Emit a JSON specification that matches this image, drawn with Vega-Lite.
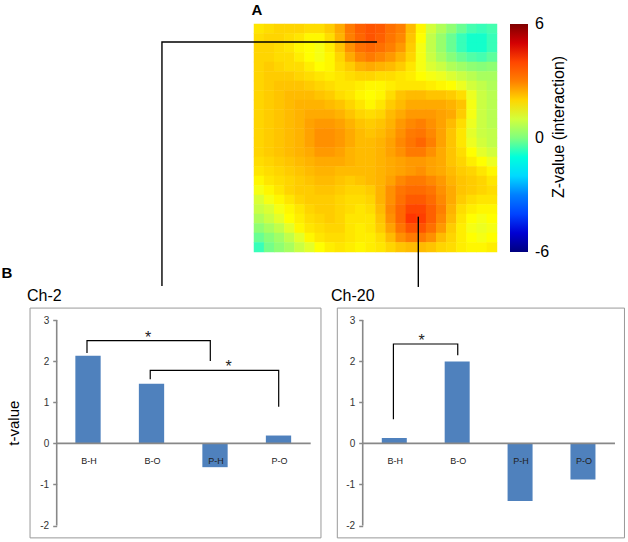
{"$schema":"https://vega.github.io/schema/vega-lite/v6.json","padding":0,"spacing":0,"bounds":"flush","background":"white",
"config":{"view":{"stroke":null},"font":"Liberation Sans","concat":{"spacing":0}},
"vconcat":[
{"width":628,"height":290,
"layer":[
{"data":{"values":[
{"c":0,"r":0,"z":1.8},{"c":1,"r":0,"z":1.9},{"c":2,"r":0,"z":2.0},{"c":3,"r":0,"z":2.0},{"c":4,"r":0,"z":2.0},{"c":5,"r":0,"z":1.9},{"c":6,"r":0,"z":1.9},{"c":7,"r":0,"z":2.1},{"c":8,"r":0,"z":2.5},{"c":9,"r":0,"z":3.1},{"c":10,"r":0,"z":3.6},{"c":11,"r":0,"z":3.8},{"c":12,"r":0,"z":3.7},{"c":13,"r":0,"z":3.3},{"c":14,"r":0,"z":3.0},{"c":15,"r":0,"z":2.3},{"c":16,"r":0,"z":1.6},{"c":17,"r":0,"z":1.0},{"c":18,"r":0,"z":0.6},{"c":19,"r":0,"z":0.2},{"c":20,"r":0,"z":-0.2},{"c":21,"r":0,"z":-0.5},{"c":22,"r":0,"z":-0.6},{"c":23,"r":0,"z":-0.5},
{"c":0,"r":1,"z":1.9},{"c":1,"r":1,"z":2.0},{"c":2,"r":1,"z":2.0},{"c":3,"r":1,"z":1.9},{"c":4,"r":1,"z":1.8},{"c":5,"r":1,"z":1.6},{"c":6,"r":1,"z":1.6},{"c":7,"r":1,"z":1.9},{"c":8,"r":1,"z":2.4},{"c":9,"r":1,"z":3.0},{"c":10,"r":1,"z":3.5},{"c":11,"r":1,"z":3.8},{"c":12,"r":1,"z":3.6},{"c":13,"r":1,"z":3.2},{"c":14,"r":1,"z":2.9},{"c":15,"r":1,"z":2.2},{"c":16,"r":1,"z":1.5},{"c":17,"r":1,"z":0.8},{"c":18,"r":1,"z":0.3},{"c":19,"r":1,"z":-0.2},{"c":20,"r":1,"z":-0.6},{"c":21,"r":1,"z":-0.8},{"c":22,"r":1,"z":-0.8},{"c":23,"r":1,"z":-0.6},
{"c":0,"r":2,"z":2.0},{"c":1,"r":2,"z":2.0},{"c":2,"r":2,"z":1.9},{"c":3,"r":2,"z":1.8},{"c":4,"r":2,"z":1.6},{"c":5,"r":2,"z":1.5},{"c":6,"r":2,"z":1.4},{"c":7,"r":2,"z":1.7},{"c":8,"r":2,"z":2.2},{"c":9,"r":2,"z":2.8},{"c":10,"r":2,"z":3.3},{"c":11,"r":2,"z":3.5},{"c":12,"r":2,"z":3.3},{"c":13,"r":2,"z":3.0},{"c":14,"r":2,"z":2.7},{"c":15,"r":2,"z":2.1},{"c":16,"r":2,"z":1.4},{"c":17,"r":2,"z":0.8},{"c":18,"r":2,"z":0.3},{"c":19,"r":2,"z":-0.2},{"c":20,"r":2,"z":-0.6},{"c":21,"r":2,"z":-0.8},{"c":22,"r":2,"z":-0.8},{"c":23,"r":2,"z":-0.6},
{"c":0,"r":3,"z":2.0},{"c":1,"r":3,"z":2.0},{"c":2,"r":3,"z":1.9},{"c":3,"r":3,"z":1.9},{"c":4,"r":3,"z":1.7},{"c":5,"r":3,"z":1.5},{"c":6,"r":3,"z":1.4},{"c":7,"r":3,"z":1.6},{"c":8,"r":3,"z":2.0},{"c":9,"r":3,"z":2.5},{"c":10,"r":3,"z":2.9},{"c":11,"r":3,"z":3.1},{"c":12,"r":3,"z":2.9},{"c":13,"r":3,"z":2.7},{"c":14,"r":3,"z":2.4},{"c":15,"r":3,"z":2.0},{"c":16,"r":3,"z":1.4},{"c":17,"r":3,"z":0.9},{"c":18,"r":3,"z":0.5},{"c":19,"r":3,"z":0.1},{"c":20,"r":3,"z":-0.2},{"c":21,"r":3,"z":-0.4},{"c":22,"r":3,"z":-0.5},{"c":23,"r":3,"z":-0.3},
{"c":0,"r":4,"z":2.0},{"c":1,"r":4,"z":2.1},{"c":2,"r":4,"z":2.0},{"c":3,"r":4,"z":1.9},{"c":4,"r":4,"z":1.9},{"c":5,"r":4,"z":1.7},{"c":6,"r":4,"z":1.5},{"c":7,"r":4,"z":1.6},{"c":8,"r":4,"z":1.9},{"c":9,"r":4,"z":2.1},{"c":10,"r":4,"z":2.4},{"c":11,"r":4,"z":2.5},{"c":12,"r":4,"z":2.4},{"c":13,"r":4,"z":2.3},{"c":14,"r":4,"z":2.1},{"c":15,"r":4,"z":1.8},{"c":16,"r":4,"z":1.4},{"c":17,"r":4,"z":1.1},{"c":18,"r":4,"z":0.9},{"c":19,"r":4,"z":0.6},{"c":20,"r":4,"z":0.4},{"c":21,"r":4,"z":0.2},{"c":22,"r":4,"z":0.1},{"c":23,"r":4,"z":0.2},
{"c":0,"r":5,"z":2.0},{"c":1,"r":5,"z":2.1},{"c":2,"r":5,"z":2.1},{"c":3,"r":5,"z":2.1},{"c":4,"r":5,"z":2.0},{"c":5,"r":5,"z":1.9},{"c":6,"r":5,"z":1.8},{"c":7,"r":5,"z":1.7},{"c":8,"r":5,"z":1.8},{"c":9,"r":5,"z":1.9},{"c":10,"r":5,"z":2.0},{"c":11,"r":5,"z":2.0},{"c":12,"r":5,"z":1.9},{"c":13,"r":5,"z":1.9},{"c":14,"r":5,"z":1.8},{"c":15,"r":5,"z":1.7},{"c":16,"r":5,"z":1.5},{"c":17,"r":5,"z":1.4},{"c":18,"r":5,"z":1.3},{"c":19,"r":5,"z":1.1},{"c":20,"r":5,"z":0.9},{"c":21,"r":5,"z":0.7},{"c":22,"r":5,"z":0.5},{"c":23,"r":5,"z":0.5},
{"c":0,"r":6,"z":2.0},{"c":1,"r":6,"z":2.1},{"c":2,"r":6,"z":2.2},{"c":3,"r":6,"z":2.2},{"c":4,"r":6,"z":2.2},{"c":5,"r":6,"z":2.1},{"c":6,"r":6,"z":2.0},{"c":7,"r":6,"z":1.9},{"c":8,"r":6,"z":1.8},{"c":9,"r":6,"z":1.8},{"c":10,"r":6,"z":1.7},{"c":11,"r":6,"z":1.6},{"c":12,"r":6,"z":1.6},{"c":13,"r":6,"z":1.7},{"c":14,"r":6,"z":1.8},{"c":15,"r":6,"z":1.8},{"c":16,"r":6,"z":1.8},{"c":17,"r":6,"z":1.7},{"c":18,"r":6,"z":1.6},{"c":19,"r":6,"z":1.5},{"c":20,"r":6,"z":1.3},{"c":21,"r":6,"z":1.0},{"c":22,"r":6,"z":0.8},{"c":23,"r":6,"z":0.6},
{"c":0,"r":7,"z":2.0},{"c":1,"r":7,"z":2.1},{"c":2,"r":7,"z":2.2},{"c":3,"r":7,"z":2.3},{"c":4,"r":7,"z":2.3},{"c":5,"r":7,"z":2.3},{"c":6,"r":7,"z":2.2},{"c":7,"r":7,"z":2.1},{"c":8,"r":7,"z":1.9},{"c":9,"r":7,"z":1.8},{"c":10,"r":7,"z":1.6},{"c":11,"r":7,"z":1.5},{"c":12,"r":7,"z":1.6},{"c":13,"r":7,"z":1.9},{"c":14,"r":7,"z":2.2},{"c":15,"r":7,"z":2.3},{"c":16,"r":7,"z":2.3},{"c":17,"r":7,"z":2.2},{"c":18,"r":7,"z":2.2},{"c":19,"r":7,"z":2.1},{"c":20,"r":7,"z":1.9},{"c":21,"r":7,"z":1.3},{"c":22,"r":7,"z":0.9},{"c":23,"r":7,"z":0.7},
{"c":0,"r":8,"z":2.0},{"c":1,"r":8,"z":2.1},{"c":2,"r":8,"z":2.2},{"c":3,"r":8,"z":2.3},{"c":4,"r":8,"z":2.4},{"c":5,"r":8,"z":2.4},{"c":6,"r":8,"z":2.4},{"c":7,"r":8,"z":2.3},{"c":8,"r":8,"z":2.2},{"c":9,"r":8,"z":2.0},{"c":10,"r":8,"z":1.8},{"c":11,"r":8,"z":1.6},{"c":12,"r":8,"z":1.8},{"c":13,"r":8,"z":2.1},{"c":14,"r":8,"z":2.3},{"c":15,"r":8,"z":2.5},{"c":16,"r":8,"z":2.5},{"c":17,"r":8,"z":2.5},{"c":18,"r":8,"z":2.5},{"c":19,"r":8,"z":2.4},{"c":20,"r":8,"z":2.2},{"c":21,"r":8,"z":1.4},{"c":22,"r":8,"z":0.9},{"c":23,"r":8,"z":0.7},
{"c":0,"r":9,"z":2.0},{"c":1,"r":9,"z":2.1},{"c":2,"r":9,"z":2.2},{"c":3,"r":9,"z":2.3},{"c":4,"r":9,"z":2.4},{"c":5,"r":9,"z":2.5},{"c":6,"r":9,"z":2.5},{"c":7,"r":9,"z":2.5},{"c":8,"r":9,"z":2.4},{"c":9,"r":9,"z":2.2},{"c":10,"r":9,"z":2.0},{"c":11,"r":9,"z":1.9},{"c":12,"r":9,"z":2.0},{"c":13,"r":9,"z":2.3},{"c":14,"r":9,"z":2.5},{"c":15,"r":9,"z":2.7},{"c":16,"r":9,"z":2.7},{"c":17,"r":9,"z":2.7},{"c":18,"r":9,"z":2.6},{"c":19,"r":9,"z":2.5},{"c":20,"r":9,"z":2.1},{"c":21,"r":9,"z":1.4},{"c":22,"r":9,"z":0.9},{"c":23,"r":9,"z":0.7},
{"c":0,"r":10,"z":2.0},{"c":1,"r":10,"z":2.1},{"c":2,"r":10,"z":2.2},{"c":3,"r":10,"z":2.3},{"c":4,"r":10,"z":2.4},{"c":5,"r":10,"z":2.6},{"c":6,"r":10,"z":2.7},{"c":7,"r":10,"z":2.7},{"c":8,"r":10,"z":2.6},{"c":9,"r":10,"z":2.4},{"c":10,"r":10,"z":2.2},{"c":11,"r":10,"z":2.1},{"c":12,"r":10,"z":2.2},{"c":13,"r":10,"z":2.4},{"c":14,"r":10,"z":2.7},{"c":15,"r":10,"z":2.9},{"c":16,"r":10,"z":3.0},{"c":17,"r":10,"z":2.8},{"c":18,"r":10,"z":2.6},{"c":19,"r":10,"z":2.3},{"c":20,"r":10,"z":1.9},{"c":21,"r":10,"z":1.3},{"c":22,"r":10,"z":0.9},{"c":23,"r":10,"z":0.7},
{"c":0,"r":11,"z":2.0},{"c":1,"r":11,"z":2.1},{"c":2,"r":11,"z":2.2},{"c":3,"r":11,"z":2.3},{"c":4,"r":11,"z":2.4},{"c":5,"r":11,"z":2.6},{"c":6,"r":11,"z":2.8},{"c":7,"r":11,"z":2.8},{"c":8,"r":11,"z":2.7},{"c":9,"r":11,"z":2.5},{"c":10,"r":11,"z":2.3},{"c":11,"r":11,"z":2.2},{"c":12,"r":11,"z":2.3},{"c":13,"r":11,"z":2.5},{"c":14,"r":11,"z":2.8},{"c":15,"r":11,"z":3.1},{"c":16,"r":11,"z":3.2},{"c":17,"r":11,"z":2.9},{"c":18,"r":11,"z":2.6},{"c":19,"r":11,"z":2.2},{"c":20,"r":11,"z":1.8},{"c":21,"r":11,"z":1.2},{"c":22,"r":11,"z":0.9},{"c":23,"r":11,"z":0.8},
{"c":0,"r":12,"z":2.0},{"c":1,"r":12,"z":2.1},{"c":2,"r":12,"z":2.2},{"c":3,"r":12,"z":2.3},{"c":4,"r":12,"z":2.4},{"c":5,"r":12,"z":2.6},{"c":6,"r":12,"z":2.8},{"c":7,"r":12,"z":2.8},{"c":8,"r":12,"z":2.7},{"c":9,"r":12,"z":2.5},{"c":10,"r":12,"z":2.3},{"c":11,"r":12,"z":2.3},{"c":12,"r":12,"z":2.4},{"c":13,"r":12,"z":2.6},{"c":14,"r":12,"z":2.9},{"c":15,"r":12,"z":3.2},{"c":16,"r":12,"z":3.5},{"c":17,"r":12,"z":3.0},{"c":18,"r":12,"z":2.6},{"c":19,"r":12,"z":2.2},{"c":20,"r":12,"z":1.8},{"c":21,"r":12,"z":1.3},{"c":22,"r":12,"z":1.0},{"c":23,"r":12,"z":0.8},
{"c":0,"r":13,"z":2.0},{"c":1,"r":13,"z":2.1},{"c":2,"r":13,"z":2.2},{"c":3,"r":13,"z":2.3},{"c":4,"r":13,"z":2.4},{"c":5,"r":13,"z":2.5},{"c":6,"r":13,"z":2.7},{"c":7,"r":13,"z":2.7},{"c":8,"r":13,"z":2.6},{"c":9,"r":13,"z":2.4},{"c":10,"r":13,"z":2.3},{"c":11,"r":13,"z":2.3},{"c":12,"r":13,"z":2.4},{"c":13,"r":13,"z":2.6},{"c":14,"r":13,"z":2.8},{"c":15,"r":13,"z":3.1},{"c":16,"r":13,"z":3.1},{"c":17,"r":13,"z":2.8},{"c":18,"r":13,"z":2.5},{"c":19,"r":13,"z":2.2},{"c":20,"r":13,"z":1.9},{"c":21,"r":13,"z":1.5},{"c":22,"r":13,"z":1.2},{"c":23,"r":13,"z":1.0},
{"c":0,"r":14,"z":1.9},{"c":1,"r":14,"z":2.0},{"c":2,"r":14,"z":2.1},{"c":3,"r":14,"z":2.2},{"c":4,"r":14,"z":2.3},{"c":5,"r":14,"z":2.4},{"c":6,"r":14,"z":2.5},{"c":7,"r":14,"z":2.5},{"c":8,"r":14,"z":2.5},{"c":9,"r":14,"z":2.4},{"c":10,"r":14,"z":2.3},{"c":11,"r":14,"z":2.3},{"c":12,"r":14,"z":2.4},{"c":13,"r":14,"z":2.5},{"c":14,"r":14,"z":2.6},{"c":15,"r":14,"z":2.7},{"c":16,"r":14,"z":2.7},{"c":17,"r":14,"z":2.6},{"c":18,"r":14,"z":2.5},{"c":19,"r":14,"z":2.2},{"c":20,"r":14,"z":2.0},{"c":21,"r":14,"z":1.7},{"c":22,"r":14,"z":1.5},{"c":23,"r":14,"z":1.3},
{"c":0,"r":15,"z":1.8},{"c":1,"r":15,"z":1.9},{"c":2,"r":15,"z":2.0},{"c":3,"r":15,"z":2.1},{"c":4,"r":15,"z":2.2},{"c":5,"r":15,"z":2.3},{"c":6,"r":15,"z":2.4},{"c":7,"r":15,"z":2.4},{"c":8,"r":15,"z":2.3},{"c":9,"r":15,"z":2.3},{"c":10,"r":15,"z":2.3},{"c":11,"r":15,"z":2.3},{"c":12,"r":15,"z":2.4},{"c":13,"r":15,"z":2.5},{"c":14,"r":15,"z":2.6},{"c":15,"r":15,"z":2.7},{"c":16,"r":15,"z":2.8},{"c":17,"r":15,"z":2.6},{"c":18,"r":15,"z":2.5},{"c":19,"r":15,"z":2.3},{"c":20,"r":15,"z":2.1},{"c":21,"r":15,"z":2.0},{"c":22,"r":15,"z":1.8},{"c":23,"r":15,"z":1.6},
{"c":0,"r":16,"z":1.6},{"c":1,"r":16,"z":1.8},{"c":2,"r":16,"z":1.9},{"c":3,"r":16,"z":2.0},{"c":4,"r":16,"z":2.1},{"c":5,"r":16,"z":2.2},{"c":6,"r":16,"z":2.3},{"c":7,"r":16,"z":2.3},{"c":8,"r":16,"z":2.2},{"c":9,"r":16,"z":2.1},{"c":10,"r":16,"z":2.2},{"c":11,"r":16,"z":2.3},{"c":12,"r":16,"z":2.4},{"c":13,"r":16,"z":2.6},{"c":14,"r":16,"z":2.9},{"c":15,"r":16,"z":3.1},{"c":16,"r":16,"z":3.1},{"c":17,"r":16,"z":2.9},{"c":18,"r":16,"z":2.7},{"c":19,"r":16,"z":2.4},{"c":20,"r":16,"z":2.2},{"c":21,"r":16,"z":2.1},{"c":22,"r":16,"z":2.0},{"c":23,"r":16,"z":1.8},
{"c":0,"r":17,"z":1.4},{"c":1,"r":17,"z":1.6},{"c":2,"r":17,"z":1.8},{"c":3,"r":17,"z":2.0},{"c":4,"r":17,"z":2.1},{"c":5,"r":17,"z":2.1},{"c":6,"r":17,"z":2.2},{"c":7,"r":17,"z":2.2},{"c":8,"r":17,"z":2.1},{"c":9,"r":17,"z":2.0},{"c":10,"r":17,"z":2.0},{"c":11,"r":17,"z":2.1},{"c":12,"r":17,"z":2.4},{"c":13,"r":17,"z":2.8},{"c":14,"r":17,"z":3.2},{"c":15,"r":17,"z":3.4},{"c":16,"r":17,"z":3.4},{"c":17,"r":17,"z":3.2},{"c":18,"r":17,"z":2.8},{"c":19,"r":17,"z":2.5},{"c":20,"r":17,"z":2.2},{"c":21,"r":17,"z":2.1},{"c":22,"r":17,"z":2.0},{"c":23,"r":17,"z":1.9},
{"c":0,"r":18,"z":1.1},{"c":1,"r":18,"z":1.4},{"c":2,"r":18,"z":1.6},{"c":3,"r":18,"z":1.8},{"c":4,"r":18,"z":2.0},{"c":5,"r":18,"z":2.1},{"c":6,"r":18,"z":2.1},{"c":7,"r":18,"z":2.1},{"c":8,"r":18,"z":2.0},{"c":9,"r":18,"z":1.9},{"c":10,"r":18,"z":1.9},{"c":11,"r":18,"z":2.0},{"c":12,"r":18,"z":2.4},{"c":13,"r":18,"z":2.8},{"c":14,"r":18,"z":3.3},{"c":15,"r":18,"z":3.7},{"c":16,"r":18,"z":3.7},{"c":17,"r":18,"z":3.4},{"c":18,"r":18,"z":2.9},{"c":19,"r":18,"z":2.5},{"c":20,"r":18,"z":2.1},{"c":21,"r":18,"z":1.9},{"c":22,"r":18,"z":1.8},{"c":23,"r":18,"z":1.8},
{"c":0,"r":19,"z":0.9},{"c":1,"r":19,"z":1.1},{"c":2,"r":19,"z":1.4},{"c":3,"r":19,"z":1.6},{"c":4,"r":19,"z":1.8},{"c":5,"r":19,"z":2.0},{"c":6,"r":19,"z":2.1},{"c":7,"r":19,"z":2.1},{"c":8,"r":19,"z":2.0},{"c":9,"r":19,"z":1.9},{"c":10,"r":19,"z":1.8},{"c":11,"r":19,"z":1.9},{"c":12,"r":19,"z":2.3},{"c":13,"r":19,"z":2.9},{"c":14,"r":19,"z":3.5},{"c":15,"r":19,"z":4.0},{"c":16,"r":19,"z":4.0},{"c":17,"r":19,"z":3.6},{"c":18,"r":19,"z":3.0},{"c":19,"r":19,"z":2.4},{"c":20,"r":19,"z":1.9},{"c":21,"r":19,"z":1.7},{"c":22,"r":19,"z":1.6},{"c":23,"r":19,"z":1.6},
{"c":0,"r":20,"z":0.6},{"c":1,"r":20,"z":0.9},{"c":2,"r":20,"z":1.2},{"c":3,"r":20,"z":1.5},{"c":4,"r":20,"z":1.7},{"c":5,"r":20,"z":1.9},{"c":6,"r":20,"z":2.0},{"c":7,"r":20,"z":2.1},{"c":8,"r":20,"z":2.0},{"c":9,"r":20,"z":1.8},{"c":10,"r":20,"z":1.8},{"c":11,"r":20,"z":1.8},{"c":12,"r":20,"z":2.2},{"c":13,"r":20,"z":2.8},{"c":14,"r":20,"z":3.5},{"c":15,"r":20,"z":4.2},{"c":16,"r":20,"z":4.1},{"c":17,"r":20,"z":3.6},{"c":18,"r":20,"z":2.9},{"c":19,"r":20,"z":2.3},{"c":20,"r":20,"z":1.8},{"c":21,"r":20,"z":1.5},{"c":22,"r":20,"z":1.4},{"c":23,"r":20,"z":1.5},
{"c":0,"r":21,"z":0.2},{"c":1,"r":21,"z":0.5},{"c":2,"r":21,"z":0.8},{"c":3,"r":21,"z":1.2},{"c":4,"r":21,"z":1.6},{"c":5,"r":21,"z":1.8},{"c":6,"r":21,"z":1.9},{"c":7,"r":21,"z":2.0},{"c":8,"r":21,"z":2.0},{"c":9,"r":21,"z":1.8},{"c":10,"r":21,"z":1.7},{"c":11,"r":21,"z":1.8},{"c":12,"r":21,"z":2.1},{"c":13,"r":21,"z":2.6},{"c":14,"r":21,"z":3.2},{"c":15,"r":21,"z":3.8},{"c":16,"r":21,"z":3.8},{"c":17,"r":21,"z":3.3},{"c":18,"r":21,"z":2.7},{"c":19,"r":21,"z":2.1},{"c":20,"r":21,"z":1.7},{"c":21,"r":21,"z":1.4},{"c":22,"r":21,"z":1.3},{"c":23,"r":21,"z":1.4},
{"c":0,"r":22,"z":-0.2},{"c":1,"r":22,"z":0.1},{"c":2,"r":22,"z":0.4},{"c":3,"r":22,"z":0.8},{"c":4,"r":22,"z":1.2},{"c":5,"r":22,"z":1.6},{"c":6,"r":22,"z":1.8},{"c":7,"r":22,"z":1.9},{"c":8,"r":22,"z":1.9},{"c":9,"r":22,"z":1.8},{"c":10,"r":22,"z":1.7},{"c":11,"r":22,"z":1.7},{"c":12,"r":22,"z":1.9},{"c":13,"r":22,"z":2.3},{"c":14,"r":22,"z":2.8},{"c":15,"r":22,"z":3.1},{"c":16,"r":22,"z":3.1},{"c":17,"r":22,"z":2.8},{"c":18,"r":22,"z":2.3},{"c":19,"r":22,"z":2.0},{"c":20,"r":22,"z":1.7},{"c":21,"r":22,"z":1.5},{"c":22,"r":22,"z":1.4},{"c":23,"r":22,"z":1.5},
{"c":0,"r":23,"z":-0.6},{"c":1,"r":23,"z":-0.1},{"c":2,"r":23,"z":0.2},{"c":3,"r":23,"z":0.5},{"c":4,"r":23,"z":0.9},{"c":5,"r":23,"z":1.2},{"c":6,"r":23,"z":1.5},{"c":7,"r":23,"z":1.7},{"c":8,"r":23,"z":1.8},{"c":9,"r":23,"z":1.7},{"c":10,"r":23,"z":1.6},{"c":11,"r":23,"z":1.7},{"c":12,"r":23,"z":1.8},{"c":13,"r":23,"z":2.0},{"c":14,"r":23,"z":2.2},{"c":15,"r":23,"z":2.3},{"c":16,"r":23,"z":2.3},{"c":17,"r":23,"z":2.2},{"c":18,"r":23,"z":2.0},{"c":19,"r":23,"z":1.9},{"c":20,"r":23,"z":1.7},{"c":21,"r":23,"z":1.6},{"c":22,"r":23,"z":1.6},{"c":23,"r":23,"z":1.7}
]},
"mark":{"type":"rect","width":10.6,"height":10},
"encoding":{
"x":{"field":"c","type":"quantitative","scale":{"domain":[-25.586,36.44],"nice":false,"zero":false},"axis":null},
"y":{"field":"r","type":"quantitative","scale":{"domain":[-3.026,27.5],"nice":false,"zero":false,"reverse":true},"axis":null},
"color":{"field":"z","type":"quantitative","scale":{"domain":[-6,-4.5,-3,-1.5,0,1.5,3,4.5,6],"range":["#00007f","#0000ff","#007fff","#00ffff","#7fff7f","#ffff00","#ff7f00","#ff0000","#7f0000"]},
"legend":{"orient":"none","legendX":510,"legendY":24,"title":null,"direction":"vertical","gradientLength":228,"gradientThickness":18,"values":[-6,0,6],"labelFontSize":16,"labelFont":"Liberation Sans","labelColor":"#000","labelOffset":7,"labelBaseline":"middle","labelExpr":"'' + datum.value","encode":{"labels":{"update":{"baseline":{"value":"middle"}}}},"tickCount":3,"gradientStrokeWidth":0}}
}},
{"data":{"values":[{"c":11.65,"r":1.395,"o":0,"g":"Ch-2"},{"c":-9.59,"r":1.395,"o":1,"g":"Ch-2"},{"c":-9.59,"r":27.08,"o":2,"g":"Ch-2"},{"c":15.73,"r":19.78,"o":0,"g":"Ch-20"},{"c":15.73,"r":27.18,"o":1,"g":"Ch-20"}]},
"mark":{"type":"line","color":"#000","strokeWidth":1.4,"interpolate":"linear"},
"encoding":{"x":{"field":"c","type":"quantitative"},"y":{"field":"r","type":"quantitative"},"detail":{"field":"g"},"order":{"field":"o","type":"quantitative"}}},
{"data":{"values":[{"c":-0.2,"r":-1.97,"t":"A"},{"c":-24.9,"r":25.7,"t":"B"}]},
"mark":{"type":"text","fontSize":15,"fontWeight":"bold","font":"Liberation Sans","color":"#000"},
"encoding":{"x":{"field":"c","type":"quantitative"},"y":{"field":"r","type":"quantitative"},"text":{"field":"t"}}},
{"data":{"values":[{"c":29.6,"r":10.34,"t":"Z-value (interaction)"}]},
"mark":{"type":"text","fontSize":16,"angle":270,"font":"Liberation Sans","color":"#000"},
"encoding":{"x":{"field":"c","type":"quantitative"},"y":{"field":"r","type":"quantitative"},"text":{"field":"t"}}}
]},
{"hconcat":[
{"width":328,"height":252,
"encoding":{"x":{"field":"x","type":"quantitative","scale":{"domain":[-0.386,4.7795],"nice":false,"zero":false,"padding":0},"axis":null},
"y":{"field":"y","type":"quantitative","scale":{"domain":[-2.40,3.73],"nice":false,"zero":false},"title":null,"axis":{"values":[-2,-1,0,1,2,3],"offset":-56.7,"domain":false,"grid":false,"tickColor":"#888","tickSize":4,"tickWidth":1.5,"labelFontSize":10,"labelColor":"#333","labelPadding":4,"labelFont":"Liberation Sans","labelExpr":"'' + datum.value"}}},
"layer":[
{"data":{"values":[{"x":0.087,"x2":4.669,"y":3.29,"y2":-2.30}]},"mark":{"type":"rect","fill":null,"stroke":"#999","strokeWidth":1},"encoding":{"x2":{"field":"x2"},"y2":{"field":"y2"}}},
{"data":{"name":"ch2","values":[{"label":"B-H","x":1,"y":2.13},{"label":"B-O","x":2,"y":1.45},{"label":"P-H","x":3,"y":-0.58},{"label":"P-O","x":4,"y":0.19}]},"mark":{"type":"bar","width":25.3,"orient":"vertical","color":"#4f81bd"},"encoding":{"y2":{"datum":0}}},
{"data":{"values":[{"x":0.507,"y":-2,"y2":3}]},"mark":{"type":"rule","color":"#888","strokeWidth":1.6},"encoding":{"y2":{"field":"y2"}}},
{"data":{"values":[{"x":0.507,"x2":4.507,"y":0}]},"mark":{"type":"rule","color":"#888","strokeWidth":1.6},"encoding":{"x2":{"field":"x2"}}},
{"data":{"name":"ch2"},"mark":{"type":"text","fontSize":9,"font":"Liberation Sans","color":"#222","dx":1},"encoding":{"y":{"datum":-0.43},"text":{"field":"label"}}},
{"data":{"values":[{"x":0.984,"y":2.2,"o":0,"g":"a"},{"x":0.984,"y":2.5,"o":1,"g":"a"},{"x":2.926,"y":2.5,"o":2,"g":"a"},{"x":2.926,"y":2.0,"o":3,"g":"a"},{"x":1.98,"y":1.557,"o":0,"g":"b"},{"x":1.98,"y":1.776,"o":1,"g":"b"},{"x":4.003,"y":1.776,"o":2,"g":"b"},{"x":4.003,"y":0.89,"o":3,"g":"b"}]},"mark":{"type":"line","color":"#000","strokeWidth":1.2},"encoding":{"detail":{"field":"g"},"order":{"field":"o","type":"quantitative"}}},
{"data":{"values":[{"x":1.945,"y":2.56,"t":"*"},{"x":3.216,"y":1.85,"t":"*"}]},"mark":{"type":"text","fontSize":16,"font":"Liberation Sans","color":"#222"},"encoding":{"text":{"field":"t"}}},
{"data":{"values":[{"x":0.039,"y":3.59,"t":"Ch-2"}]},"mark":{"type":"text","fontSize":16,"align":"left","font":"Liberation Sans","color":"#000"},"encoding":{"text":{"field":"t"}}},
{"data":{"values":[{"x":-0.165,"y":0.49,"t":"t-value"}]},"mark":{"type":"text","fontSize":15,"angle":270,"font":"Liberation Sans","color":"#000"},"encoding":{"text":{"field":"t"}}}
]},
{"width":300,"height":252,
"encoding":{"x":{"field":"x","type":"quantitative","scale":{"domain":[-0.054,4.716],"nice":false,"zero":false,"padding":0},"axis":null},
"y":{"field":"y","type":"quantitative","scale":{"domain":[-2.40,3.73],"nice":false,"zero":false},"title":null,"axis":{"values":[-2,-1,0,1,2,3],"offset":-34.7,"domain":false,"grid":false,"tickColor":"#888","tickSize":4,"tickWidth":1.5,"labelFontSize":10,"labelColor":"#333","labelPadding":4,"labelFont":"Liberation Sans","labelExpr":"'' + datum.value"}}},
"layer":[
{"data":{"values":[{"x":0.094,"x2":4.66,"y":3.29,"y2":-2.30}]},"mark":{"type":"rect","fill":null,"stroke":"#999","strokeWidth":1},"encoding":{"x2":{"field":"x2"},"y2":{"field":"y2"}}},
{"data":{"name":"ch20","values":[{"label":"B-H","x":1,"y":0.13},{"label":"B-O","x":2,"y":1.99},{"label":"P-H","x":3,"y":-1.40},{"label":"P-O","x":4,"y":-0.88}]},"mark":{"type":"bar","width":25,"orient":"vertical","color":"#4f81bd"},"encoding":{"y2":{"datum":0}}},
{"data":{"values":[{"x":0.498,"y":-2,"y2":3}]},"mark":{"type":"rule","color":"#888","strokeWidth":1.6},"encoding":{"y2":{"field":"y2"}}},
{"data":{"values":[{"x":0.498,"x2":4.509,"y":0}]},"mark":{"type":"rule","color":"#888","strokeWidth":1.6},"encoding":{"x2":{"field":"x2"}}},
{"data":{"name":"ch20"},"mark":{"type":"text","fontSize":9,"font":"Liberation Sans","color":"#222","dx":1},"encoding":{"y":{"datum":-0.43},"text":{"field":"label"}}},
{"data":{"values":[{"x":0.986,"y":0.584,"o":0},{"x":0.986,"y":2.416,"o":1},{"x":2.009,"y":2.416,"o":2},{"x":2.009,"y":2.14,"o":3}]},"mark":{"type":"line","color":"#000","strokeWidth":1.2},"encoding":{"order":{"field":"o","type":"quantitative"}}},
{"data":{"values":[{"x":1.436,"y":2.5,"t":"*"}]},"mark":{"type":"text","fontSize":16,"font":"Liberation Sans","color":"#222"},"encoding":{"text":{"field":"t"}}},
{"data":{"values":[{"x":-0.006,"y":3.59,"t":"Ch-20"}]},"mark":{"type":"text","fontSize":16,"align":"left","font":"Liberation Sans","color":"#000"},"encoding":{"text":{"field":"t"}}}
]}
],"spacing":0,"bounds":"flush"}
]}
